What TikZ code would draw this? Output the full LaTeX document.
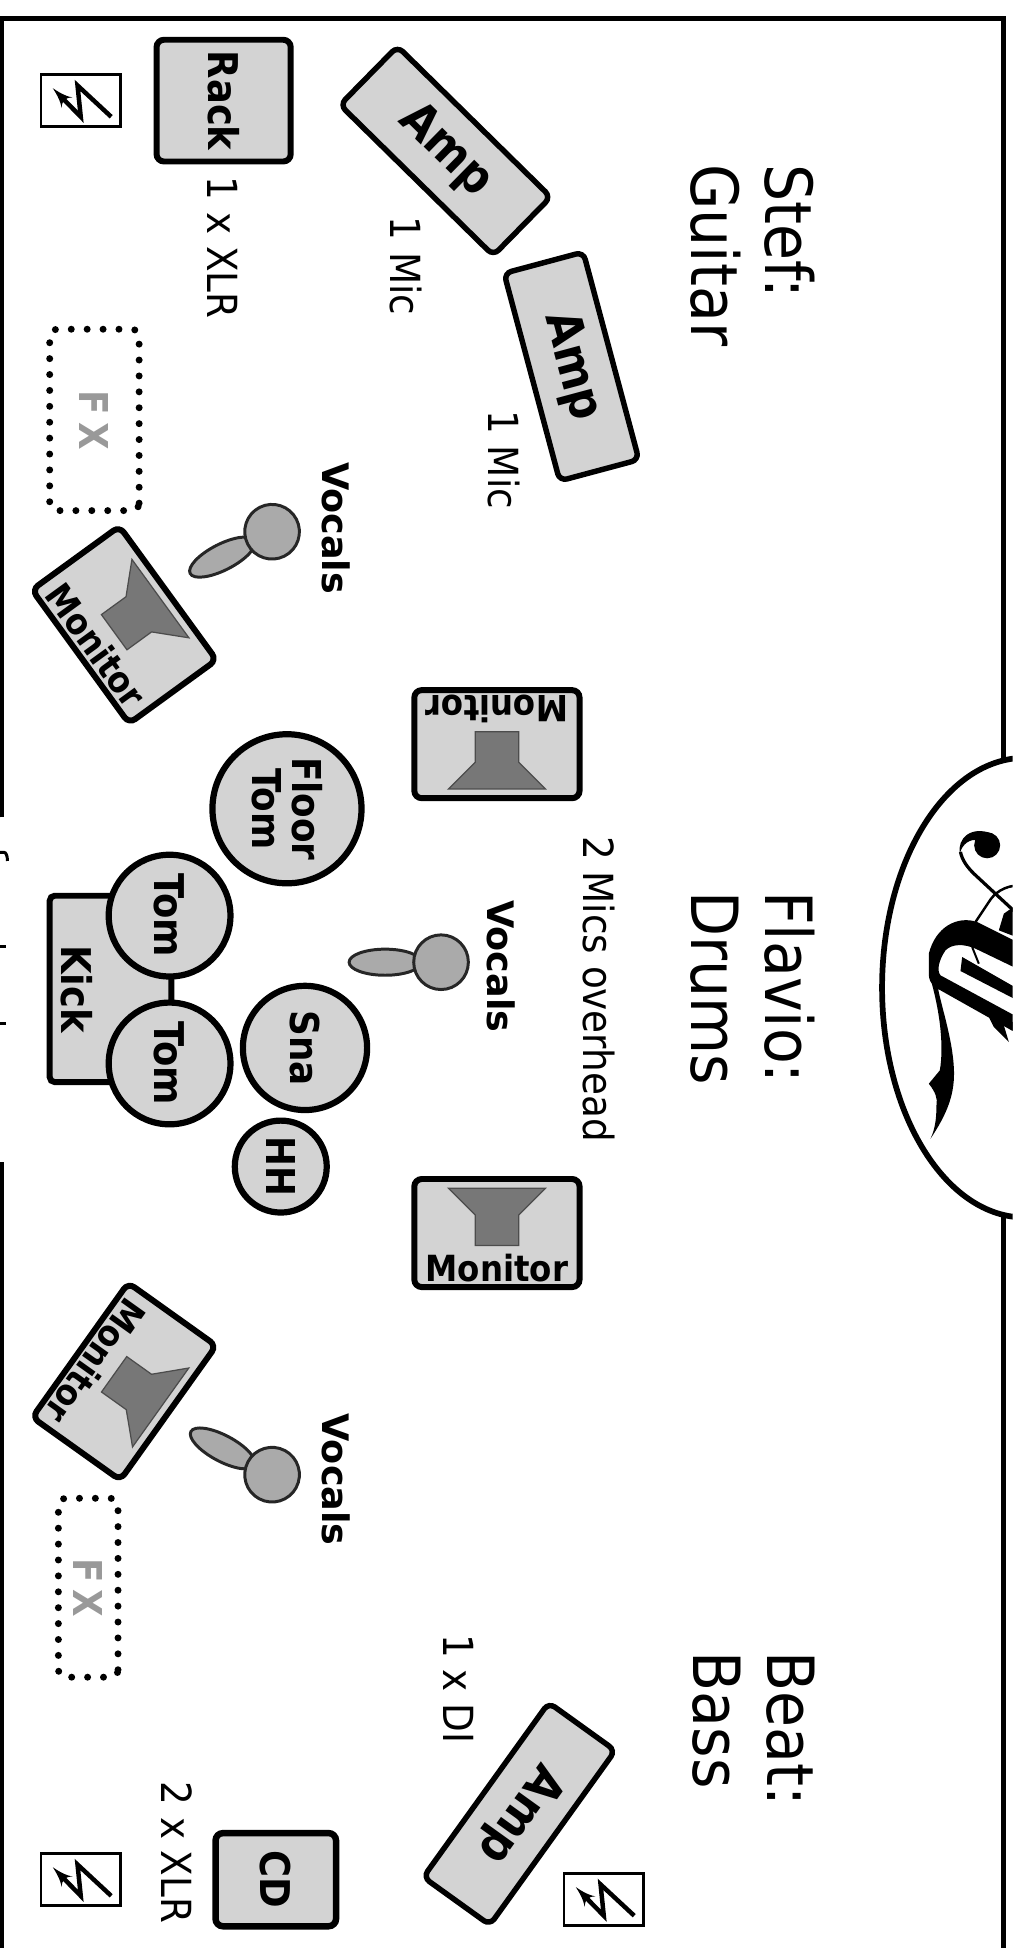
\documentclass[tikz,border=0pt]{standalone}
\usepackage{fontspec}
\setmainfont{DejaVu Sans Condensed}
\newfontfamily\widefont{DejaVu Sans}
\usetikzlibrary{positioning,arrows,calc}
\definecolor{gearfill}{HTML}{D3D3D3}
\definecolor{conefill}{HTML}{777777}
\definecolor{micfill}{HTML}{AAAAAA}
\definecolor{fxgray}{HTML}{999999}
\tikzset{
    >=latex',
    frameline/.style = {
        line width=1.9pt
    },
    gear/.style = {
        draw,
        shape=rectangle,
        fill=gearfill,
        rounded corners=3pt,
        line width=2.4pt,
        inner sep=0pt
    },
    amp/.style = {
        gear,
        line width=2.2pt,
        minimum width=86.5pt,
        minimum height=33pt,
        font=\bfseries\fontsize{19.5}{24}\selectfont
    },
    drum/.style = {
        draw,
        shape=circle,
        fill=gearfill,
        line width=2.5pt,
        inner sep=0pt,
        rotate=-90,
        align=center,
        font=\bfseries\fontsize{16}{16}\selectfont
    },
    fxbox/.style = {
        draw,
        shape=rectangle,
        rounded corners=3pt,
        line width=2.8pt,
        line cap=round,
        dash pattern=on 0pt off 6.4pt,
        text=fxgray,
        inner sep=0pt,
        rotate=-90,
        font=\bfseries\fontsize{16}{20}\selectfont
    },
    bigtext/.style = {
        rotate=-90,
        align=left,
        anchor=north west,
        inner sep=0pt,
        font=\fontsize{26.2}{29.5}\selectfont
    },
    smalltext/.style = {
        rotate=-90,
        inner sep=0pt,
        font=\fontsize{16.7}{19}\selectfont
    },
    boldtext/.style = {
        rotate=-90,
        inner sep=0pt,
        font=\widefont\bfseries\fontsize{14.7}{18}\selectfont
    },
    monitor/.pic = {
        \node[gear, line width=2.4pt, minimum width=66.5pt, minimum height=43.5pt, transform shape] (-box) at (0,0) {};
        \filldraw[fill=conefill, draw=black!70, line width=.5pt] (-39,-36) -- (39,-36) -- (17.5,-14.5) -- (17.5,10) -- (-17.5,10) -- (-17.5,-14.5) -- cycle;
        \node[inner sep=0pt, transform shape, font=\bfseries\fontsize{14.5}{17}\selectfont] (-text) at (0,28) {Monitor};
    },
    singer/.pic = {
        \draw[fill=micfill, line width=1.2pt, draw=black!85] (-45,0) ellipse [x radius=29, y radius=10.5];
        \draw[fill=micfill, line width=1.2pt, draw=black!85] (0,0) circle [radius=22];
    },
    power/.pic = {
        \node[draw, fill=white, line width=1.1pt, minimum width=32pt, minimum height=21pt, inner sep=0pt] (-box) at (0,0) {};
        \draw[->, line width=1.8pt] (24.5,13) -- (-2.6,-12.2) -- (0,13) -- (-22.5,-10);
    }
}

\begin{document}
\begin{tikzpicture}[x=0.5pt, y=-0.5pt]
    \useasboundingbox (0,0) rectangle (815,1568);
    \clip (0,0) rectangle (815,1568);

    % stage outline
    \draw[frameline] (1.5,1568) -- (1.5,935);
    \draw[frameline] (1.5,658) -- (1.5,15) -- (807.5,15) -- (807.5,1568);
    \draw[frameline, fill=white, line width=2.3pt] (825,795) ellipse [x radius=115, y radius=185];

    % cut off writing on the left edge
    \draw[line width=1.2pt] (0,686) -- (3,686) .. controls (5,686) and (6,689) .. (6,693);
    \draw[line width=1.2pt] (0,762) -- (5,762);
    \draw[line width=1.2pt] (0,824) -- (5,824);

    % logo
    \begin{scope}[shift={(692.6,587.8)}, scale=.2684]
        \fill (480,640) -- (350,575) .. controls (290,555) and (225,590) .. (205,670) -- (205,735) .. controls (207,760) and (225,775) .. (240,780) -- (480,915) -- (480,865) -- (240,735) .. controls (228,720) and (235,690) .. (255,660) .. controls (275,640) and (310,640) .. (345,655) -- (480,720) -- cycle;
        \fill (305,680) -- (480,780) -- (480,815) -- (300,722) -- cycle;
        \fill (210,745) .. controls (240,850) and (250,950) .. (238,1020) -- (205,1060) .. controls (225,1085) and (232,1105) .. (228,1125) .. controls (228,1170) and (222,1200) .. (210,1225) .. controls (260,1150) and (285,1090) .. (280,1010) .. controls (275,920) and (240,820) .. (232,770) -- cycle;
        \fill (380,345) circle [radius=39];
        \fill (395,310) .. controls (330,285) and (290,325) .. (298,370) .. controls (305,340) and (330,325) .. (350,330) -- cycle;
        \draw[line width=1.3pt] (300,365) .. controls (305,390) and (320,410) .. (340,430) -- (480,560);
        \draw[line width=1pt] (345,575) -- (385,515) .. controls (400,490) and (430,465) .. (480,465);
        \fill (415,600) -- (430,550) -- (480,515) -- (480,625) -- cycle;
        \draw[line width=.8pt] (335,650) -- (355,700);
        \fill (385,860) -- (400,890) -- (445,935) -- (430,885) -- (480,915) -- (480,880) -- cycle;
    \end{scope}

    % players
    \node[bigtext] (stef)   at (656,132)  {Stef:\\Guitar};
    \node[bigtext] (flavio) at (656,717)  {Flavio:\\Drums};
    \node[bigtext] (beat)   at (656,1329) {Beat:\\Bass};

    % guitar side
    \node[gear, rotate=-90, minimum width=49pt, minimum height=54pt, font=\bfseries\fontsize{16.5}{20}\selectfont] (rack) at (180,81) {Rack};
    \node[amp, rotate=-44.5] (ampleft) at (358.5,121.5) {Amp};
    \node[amp, rotate=-75] (ampmid) at (460,295) {Amp};
    \node[fxbox, minimum width=73pt, minimum height=36pt] (fxleft) at (76,338) {F\kern3pt X};
    \node[smalltext] (xlrleft) at (179,199.5) {1 x XLR};
    \node[smalltext] (micleft) at (327,214) {1 Mic};
    \node[smalltext] (micmid) at (406,370) {1 Mic};
    \node[boldtext] (vocleft) at (270.5,425) {Vocals};
    \pic (powerleft) at (65,81) {power};
    \pic[rotate=27] (singerleft) at (219,428) {singer};
    \pic[rotate=-54] (monleft) at (100,503) {monitor};

    % drums
    \pic[rotate=180] (montop) at (400,599) {monitor};
    \pic (monbottom) at (400,992.5) {monitor};
    \node[gear, rounded corners=2pt, minimum width=49pt, minimum height=75pt] (kick) at (89,796) {};
    \node[rotate=-90, inner sep=0pt, font=\bfseries\fontsize{16.5}{18}\selectfont] (kicktext) at (62,796) {Kick};
    \node[drum, minimum size=60pt] (floortom) at (231,651) {Floor\\Tom};
    \node[drum, minimum size=49pt, font=\bfseries\fontsize{16.5}{16}\selectfont] (tomone) at (136.5,737) {Tom};
    \node[drum, minimum size=49pt, font=\bfseries\fontsize{16.5}{16}\selectfont] (tomtwo) at (136.5,856) {Tom};
    \node[drum, minimum size=50pt] (snare) at (245.5,843.5) {Sna};
    \node[drum, minimum size=37pt] (hihat) at (226,939) {HH};
    \node[smalltext] (overhead) at (482,796) {2 Mics overhead};
    \node[boldtext] (vocmid) at (403.5,778) {Vocals};
    \pic (singermid) at (355,774.5) {singer};

    % bass side
    \node[amp, rotate=-125.7] (ampright) at (418,1460) {Amp};
    \node[gear, rotate=-90, line width=2.6pt, minimum width=37.5pt, minimum height=48.5pt, font=\bfseries\fontsize{16.5}{20}\selectfont] (cd) at (222,1513) {CD};
    \node[fxbox, minimum width=72pt, minimum height=24pt] (fxright) at (71,1278) {F\kern3pt X};
    \node[smalltext] (diright) at (369.5,1359.5) {1 x DI};
    \node[smalltext] (xlrright) at (142,1491) {2 x XLR};
    \node[boldtext] (vocright) at (270.5,1191) {Vocals};
    \pic (powerright) at (65,1513) {power};
    \pic (powerbass) at (486,1529) {power};
    \pic[rotate=-28] (singerright) at (219,1187) {singer};
    \pic[rotate=-125.5] (monright) at (100,1112) {monitor};
\end{tikzpicture}
\end{document}
